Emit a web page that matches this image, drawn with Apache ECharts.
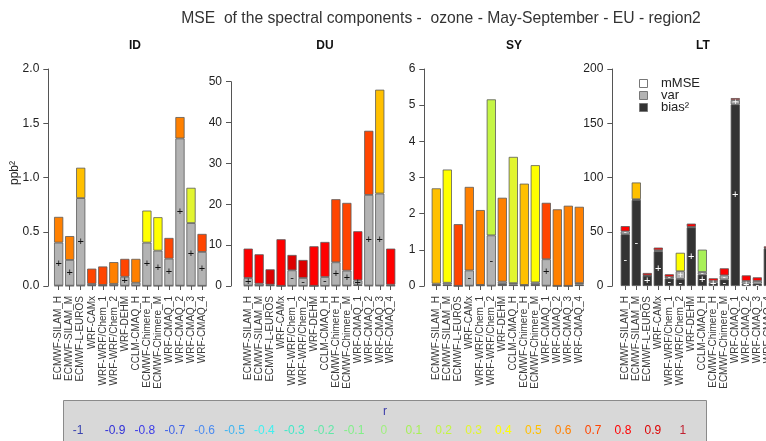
<!DOCTYPE html>
<html>
<head>
<meta charset="utf-8">
<script src="https://cdn.jsdelivr.net/npm/echarts@6/dist/echarts.min.js"></script>
<style>html,body{margin:0;padding:0;background:#fff}#c{width:766px;height:441px}</style>
</head>
<body>
<div id="c"></div>
<script>
// ---------------- DATA ----------------
const categories = ['ECMWF-SILAM_H','ECMWF-SILAM_M','ECMWF-L-EUROS','WRF-CAMx','WRF-WRF/Chem_1','WRF-WRF/Chem_2','WRF-DEHM','CCLM-CMAQ_H','ECMWF-Chimere_H','ECMWF-Chimere_M','WRF-CMAQ_1','WRF-CMAQ_2','WRF-CMAQ_3','WRF-CMAQ_4'];
const panelNames = ['ID','DU','SY','LT'];
const mainTitle = 'MSE  of the spectral components -  ozone - May-September - EU - region2';

// ID
const idBias2 = [0.004,0.003,0.004,0.006,0.004,0.005,0.003,0.004,0.002,0.002,0.003,0.003,0.002,0.002];
const idVar   = [0.396,0.237,0.806,0.014,0.006,0.015,0.082,0.026,0.398,0.324,0.249,1.357,0.578,0.312];
const idMMSE  = [0.237,0.22,0.28,0.14,0.17,0.2,0.165,0.22,0.295,0.308,0.191,0.197,0.325,0.166];
const idR     = [0.6,0.6,0.5,0.7,0.7,0.6,0.7,0.6,0.4,0.4,0.7,0.6,0.3,0.7];
const idBiasSign = ['','','','','','','','','','','','','',''];
const idVarSign  = ['+','+','+','','','','+','','+','+','+','+','+','+'];

// DU
const duBias2 = [0.1,0.1,0.15,0.02,0.05,0.05,0.02,0.05,0.1,0.1,0.3,0.1,0.1,0.1];
const duVar   = [1.86,0.47,0.18,0.03,3.79,1.91,0.03,2.15,5.7,3.66,1.09,22.2,22.53,0.23];
const duMMSE  = [7.19,7.19,3.75,11.39,3.76,4.41,9.67,8.58,15.44,16.58,12.01,15.69,25.41,8.82];
const duR     = [0.8,0.8,0.9,0.8,0.9,0.9,0.8,0.8,0.7,0.7,0.8,0.7,0.5,0.8];
const duBiasSign = ['','','','','','','','','','','','','',''];
const duVarSign  = ['+','','','','-','-','','-','+','+','+','+','+',''];

// SY
const syBias2 = [0.03,0.04,0.002,0.01,0.02,0.01,0.06,0.04,0.015,0.05,0.01,0.002,0.002,0.04];
const syVar   = [0.035,0.05,0.003,0.42,0.01,1.39,0.06,0.04,0.015,0.05,0.73,0.003,0.003,0.04];
const syMMSE  = [2.635,3.13,1.705,2.31,2.07,3.76,2.32,3.49,2.80,3.24,1.56,2.115,2.215,2.11];
const syR     = [0.5,0.4,0.7,0.6,0.6,0.2,0.6,0.3,0.5,0.4,0.7,0.6,0.6,0.6];
const syBiasSign = ['','','','','','','','','','','','','',''];
const syVarSign  = ['','','','-','','-','','','','','+','','',''];

// LT
const ltBias2 = [47.7,79.3,9.5,32,6.8,6.5,54,10.5,3,6,167.4,2.2,2.2,34.5];
const ltVar   = [2.6,0.7,0.3,1,1.5,7.1,0.5,2.4,1.6,3.8,4,2.4,2.4,0.5];
const ltMMSE  = [4.9,15.4,2.2,2.4,2.5,17,3,20.6,2.5,6.5,1.8,5.2,3.4,1.5];
const ltR     = [0.8,0.5,0.8,0.8,0.8,0.4,0.8,0.1,0.8,0.8,0.8,0.8,0.8,0.8];
const ltBiasSign = ['-','-','+','+','-','-','+','+','+','-','+','+','-','-'];
const ltVarSign  = ['-','','','','-','+','','-','','-','+','','',''];

const yMax = [2, 50, 6, 200];
const yStep = [0.5, 10, 1, 50];

const rTicks = ['-1','-0.9','-0.8','-0.7','-0.6','-0.5','-0.4','-0.3','-0.2','-0.1','0','0.1','0.2','0.3','0.4','0.5','0.6','0.7','0.8','0.9','1'];
const rColors = ['#3a44b0','#2f2fd8','#3a3ae8','#3f63e8','#4a8af0','#3fb4f0','#3ff0f0','#40e8c8','#60e8a8','#80f088','#a0f080','#a8f058','#c4f545','#e2f530','#ffff00','#ffc000','#ff8000','#ff4500','#ff0000','#dd0000','#c02030'];

// ---------------- LAYOUT ----------------
const bias2All = [idBias2, duBias2, syBias2, ltBias2];
const varAll = [idVar, duVar, syVar, ltVar];
const mmseAll = [idMMSE, duMMSE, syMMSE, ltMMSE];
const rAll = [idR, duR, syR, ltR];
const biasSignAll = [idBiasSign, duBiasSign, syBiasSign, ltBiasSign];
const varSignAll = [idVarSign, duVarSign, syVarSign, ltVarSign];

const gridLeft = [53.15, 242.7, 430.8, 619.8];
const gridWidth = [154.4, 153.5, 154, 154];
const gridTop = [69, 81.7, 69, 69];
const axisOffset = [4.85, 11.7, 6.5, 7.5];
const titleX = [130, 320, 509, 698];
const FONT = 'Liberation Sans, Arial, sans-serif';

function rColor(r){ return rColors[Math.round((r + 1) * 10)]; }

const grids = [], xAxes = [], yAxes = [], series = [], titles = [];
titles.push({text: mainTitle, left: 436, top: 6, textAlign: 'center',
  textStyle: {fontFamily: FONT, fontSize: 15.7, fontWeight: 'normal', color: '#333'}});
for (let i = 0; i < 4; i++) {
  grids.push({left: gridLeft[i], width: gridWidth[i], top: gridTop[i], bottom: 155,
    containLabel: false, outerBoundsMode: 'none'});
  titles.push({text: panelNames[i], left: titleX[i], top: 35, textAlign: 'center',
    textStyle: {fontFamily: FONT, fontSize: 12, fontWeight: 'bold', color: '#111'}});
  xAxes.push({type: 'category', gridIndex: i, data: categories, offset: 2,
    axisLine: {show: false},
    axisTick: {show: true, alignWithLabel: true, length: 4, lineStyle: {color: '#555'}},
    axisLabel: {rotate: 90, interval: 0, fontSize: 10, fontFamily: FONT, color: '#3a3a3a', margin: 8}});
  yAxes.push({type: 'value', gridIndex: i, min: 0, max: yMax[i], interval: yStep[i], offset: axisOffset[i],
    axisLine: {show: true, lineStyle: {color: '#555'}},
    axisTick: {show: true, length: 5, lineStyle: {color: '#555'}},
    splitLine: {show: false},
    axisLabel: {fontSize: 12, fontFamily: FONT, color: '#222', margin: 9,
      formatter: i === 0 ? (v => v.toFixed(1)) : (v => String(v))}});
  const common = {type: 'bar', xAxisIndex: i, yAxisIndex: i, stack: 's' + i, barWidth: 9.2, animation: false};
  const signColor = i === 3 ? '#fff' : '#111';
  series.push(Object.assign({}, common, {name: 'bias2_' + i, data: bias2All[i],
    itemStyle: {color: '#333333', borderColor: '#555', borderWidth: 0.8},
    label: {show: true, position: 'inside', color: '#fff', fontSize: 11, fontFamily: FONT,
      formatter: p => biasSignAll[i][p.dataIndex]}}));
  series.push(Object.assign({}, common, {name: 'var_' + i, data: varAll[i],
    itemStyle: {color: '#b3b3b3', borderColor: '#5a5a5a', borderWidth: 0.8},
    label: {show: true, position: 'inside', color: signColor, fontSize: i === 3 ? 9 : 11, fontFamily: FONT,
      formatter: p => varSignAll[i][p.dataIndex]}}));
  series.push(Object.assign({}, common, {name: 'mmse_' + i,
    data: mmseAll[i].map((v, k) => ({value: v, itemStyle: {color: rColor(rAll[i][k])}})),
    itemStyle: {borderColor: '#5a5a5a', borderWidth: 0.8}}));
}

const graphics = [];
graphics.push({type: 'text', x: 15, y: 173, rotation: Math.PI / 2,
  style: {text: 'ppb²', font: '12px ' + FONT, fill: '#222', textAlign: 'center', textVerticalAlign: 'middle'}});
// legend in LT panel
const legItems = [['mMSE', '#ffffff'], ['var', '#b3b3b3'], ['bias²', '#333333']];
const legY = [79, 91, 103];
legItems.forEach((it, k) => {
  graphics.push({type: 'rect', shape: {x: 639.5, y: legY[k] + 0.5, width: 8, height: 8},
    style: {fill: it[1], stroke: '#777', lineWidth: 1}});
  graphics.push({type: 'text', x: 661, y: legY[k] + 4.5,
    style: {text: it[0], font: '13px ' + FONT, fill: '#222', textVerticalAlign: 'middle'}});
});
// colour key
graphics.push({type: 'rect', shape: {x: 63.5, y: 400.5, width: 643, height: 50},
  style: {fill: '#d8d8d8', stroke: '#8a8a8a', lineWidth: 1}});
graphics.push({type: 'text', x: 385, y: 412,
  style: {text: 'r', font: '12px ' + FONT, fill: '#3a3aa8', textAlign: 'center', textVerticalAlign: 'middle'}});
rTicks.forEach((t, k) => {
  graphics.push({type: 'text', x: k === 0 ? 78 : 115 + (k - 1) * 29.88, y: 431,
    style: {text: t, font: '12px ' + FONT, fill: rColors[k], textAlign: 'center', textVerticalAlign: 'middle'}});
});

const chart = echarts.init(document.getElementById('c'), null, {renderer: 'canvas'});
chart.setOption({
  animation: false,
  backgroundColor: '#fff',
  title: titles,
  grid: grids,
  xAxis: xAxes,
  yAxis: yAxes,
  series: series,
  graphic: graphics
});
</script>
</body>
</html>
